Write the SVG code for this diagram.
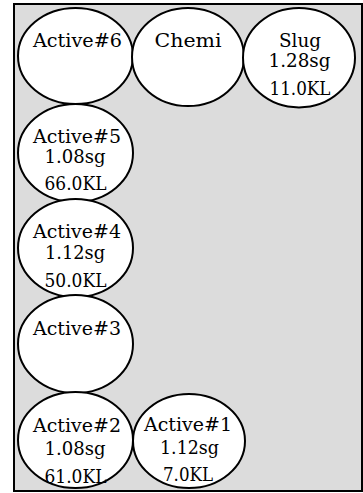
<svg xmlns="http://www.w3.org/2000/svg" width="363" height="493" viewBox="0 0 363 493">
<style>
.frame{fill:#dcdcdc;stroke:#000;stroke-width:2}
.node ellipse{fill:#fff;stroke:#000;stroke-width:2}
.node text{font-family:"DejaVu Serif","Liberation Serif",serif;font-size:19px;fill:#000;text-anchor:middle}
</style>
<rect class="frame" x="14" y="4" width="348" height="487"/>
<g id="connectors"/>
<g id="active6" class="node">
<ellipse cx="75.5" cy="56" rx="57.5" ry="48"/>
<text x="77.5" y="46.5" textLength="89" lengthAdjust="spacingAndGlyphs">Active#6</text>
</g>
<g id="chemi" class="node">
<ellipse cx="188" cy="57" rx="56" ry="49"/>
<text x="188" y="46.5" textLength="67" lengthAdjust="spacingAndGlyphs">Chemi</text>
</g>
<g id="slug" class="node">
<ellipse cx="299" cy="57.7" rx="56" ry="49.7"/>
<text x="300" y="46.7" textLength="42" lengthAdjust="spacingAndGlyphs">Slug</text>
<text x="299.5" y="67" textLength="62" lengthAdjust="spacingAndGlyphs">1.28sg</text>
<text x="300" y="95" textLength="61" lengthAdjust="spacingAndGlyphs">11.0KL</text>
</g>
<g id="active5" class="node">
<ellipse cx="75.5" cy="153" rx="57.5" ry="49"/>
<text x="77" y="142.7" textLength="88" lengthAdjust="spacingAndGlyphs">Active#5</text>
<text x="75" y="162.5" textLength="61" lengthAdjust="spacingAndGlyphs">1.08sg</text>
<text x="75.5" y="190" textLength="62" lengthAdjust="spacingAndGlyphs">66.0KL</text>
</g>
<g id="active4" class="node">
<ellipse cx="75.5" cy="248" rx="57.5" ry="49"/>
<text x="77" y="238" textLength="88" lengthAdjust="spacingAndGlyphs">Active#4</text>
<text x="75" y="259" textLength="60" lengthAdjust="spacingAndGlyphs">1.12sg</text>
<text x="75.5" y="287" textLength="62" lengthAdjust="spacingAndGlyphs">50.0KL</text>
</g>
<g id="active3" class="node">
<ellipse cx="75.5" cy="344" rx="57.5" ry="49"/>
<text x="77" y="335" textLength="88" lengthAdjust="spacingAndGlyphs">Active#3</text>
</g>
<g id="active2" class="node">
<ellipse cx="75.5" cy="440" rx="57.5" ry="48"/>
<text x="77" y="431.5" textLength="88" lengthAdjust="spacingAndGlyphs">Active#2</text>
<text x="75" y="455" textLength="61" lengthAdjust="spacingAndGlyphs">1.08sg</text>
<text x="75.5" y="482.5" textLength="62" lengthAdjust="spacingAndGlyphs">61.0KL</text>
</g>
<g id="active1" class="node">
<ellipse cx="189" cy="441" rx="56" ry="47"/>
<text x="188" y="431" textLength="88" lengthAdjust="spacingAndGlyphs">Active#1</text>
<text x="189.5" y="454" textLength="59" lengthAdjust="spacingAndGlyphs">1.12sg</text>
<text x="188" y="481" textLength="50" lengthAdjust="spacingAndGlyphs">7.0KL</text>
</g>
</svg>
